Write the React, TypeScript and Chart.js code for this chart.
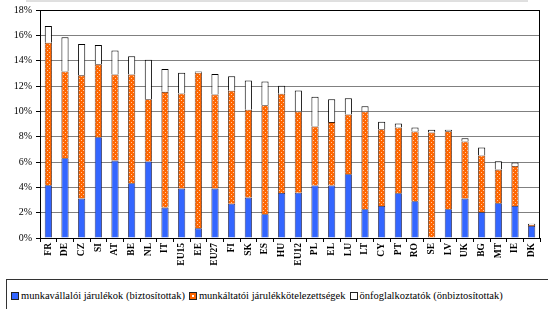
import React, { useEffect, useRef } from "react";
import { Chart, registerables } from "chart.js";

Chart.register(...registerables);

const categories = ["FR","DE","CZ","SI","AT","BE","NL","IT","EU15","EE","EU27","FI","SK","ES","HU","EU12","PL","EL","LU","LT","CY","PT","RO","SE","LV","UK","BG","MT","IE","DK"];
const employee = [4.16,6.30,3.11,7.96,6.11,4.32,6.04,2.40,3.90,0.76,3.90,2.71,3.19,1.87,3.56,3.58,4.14,4.14,5.03,2.27,2.53,3.53,2.90,0.00,2.27,3.11,2.03,2.74,2.53,0.95];
const employer = [11.26,6.85,9.73,5.75,6.80,8.59,4.92,9.14,7.51,12.29,7.43,8.91,6.93,8.62,7.83,6.41,4.66,5.01,4.72,7.72,6.06,5.19,5.51,8.33,6.16,4.51,4.48,2.66,3.16,0.08];
const selfEmployed = [1.32,2.69,2.47,1.52,1.90,1.43,3.11,1.80,1.64,0.10,1.61,1.14,2.32,1.87,0.63,1.66,2.35,1.81,1.29,0.42,0.58,0.32,0.31,0.21,0.11,0.26,0.63,0.66,0.27,0.10];
const seriesLabels = ["munkavállalói járulékok (biztosítottak)", "munkáltatói járulékkötelezettségek", "önfoglalkoztatók (önbiztosítottak)"];
const yTicks = [0, 2, 4, 6, 8, 10, 12, 14, 16, 18];

const BLUE = "#3366ff";
const ORANGE = "#ff6600";
const FONT = "'Liberation Serif', 'Times New Roman', serif";

function makePattern(): CanvasPattern | string {
  const c = document.createElement("canvas");
  c.width = 4;
  c.height = 4;
  const g = c.getContext("2d");
  if (!g) return ORANGE;
  g.fillStyle = ORANGE;
  g.fillRect(0, 0, 4, 4);
  g.fillStyle = "#ffc9a3";
  g.fillRect(1, 0, 1, 1);
  g.fillRect(3, 2, 1, 1);
  const p = g.createPattern(c, "repeat");
  return p || ORANGE;
}

const framePlugin = {
  id: "frame",
  afterDraw(chart: any) {
    const { ctx, chartArea } = chart;
    ctx.save();
    ctx.strokeStyle = "#000";
    ctx.lineWidth = 1;
    ctx.strokeRect(Math.round(chartArea.left) + 0.5, Math.round(chartArea.top) + 0.5, Math.round(chartArea.right - chartArea.left) - 1, Math.round(chartArea.bottom - chartArea.top));
    ctx.strokeStyle = "#c0c0c0";
    ctx.beginPath();
    ctx.moveTo(26, 1);
    ctx.lineTo(528, 1);
    ctx.stroke();
    ctx.restore();
  },
};

export default function App() {
  const ref = useRef<HTMLCanvasElement | null>(null);

  useEffect(() => {
    document.body.style.margin = "0";
    if (!ref.current) return;
    const pattern = makePattern();
    const chart = new Chart(ref.current, {
      type: "bar",
      data: {
        labels: categories,
        datasets: [
          { label: seriesLabels[0], data: employee, backgroundColor: BLUE, borderColor: "#1a1a40", borderWidth: 0.8 },
          { label: seriesLabels[1], data: employer, backgroundColor: pattern as any, borderColor: "#402010", borderWidth: 0.8 },
          { label: seriesLabels[2], data: selfEmployed, backgroundColor: "#ffffff", borderColor: "#000", borderWidth: 1 },
        ],
      },
      options: {
        animation: false,
        responsive: true,
        maintainAspectRatio: false,
        datasets: { bar: { categoryPercentage: 1, barPercentage: 0.43 } },
        layout: { padding: { top: 10, right: 8, left: 0, bottom: 0 } },
        plugins: { legend: { display: false }, tooltip: { enabled: false } },
        scales: {
          x: {
            stacked: true,
            afterFit: (s: any) => { s.height = 41; },
            grid: { display: true, drawOnChartArea: false, drawTicks: true, tickLength: 4, color: "#000", offset: true },
            border: { display: true, color: "#000" },
            ticks: {
              color: "#000",
              maxRotation: 90,
              minRotation: 90,
              autoSkip: false,
              padding: 1,
              font: { family: FONT, size: 9.5, weight: "bold" },
            },
          },
          y: {
            stacked: true,
            min: 0,
            max: 18,
            afterFit: (s: any) => { s.width = 40; },
            afterBuildTicks: (s: any) => { s.ticks = yTicks.map((v) => ({ value: v })); },
            grid: {
              color: (c: any) => (c.tick && (c.tick.value === 18 || c.tick.value === 0) ? "#000" : "#808080"),
              tickColor: "#000",
              tickLength: 4,
              lineWidth: 1,
            },
            border: { display: true, color: "#000" },
            ticks: {
              color: "#000",
              padding: 4,
              font: { family: FONT, size: 10 },
              callback: (v: any) => v + "%",
            },
          },
        },
      },
      plugins: [framePlugin],
    });
    return () => chart.destroy();
  }, []);

  const square = (bg: string, extra?: React.CSSProperties): React.CSSProperties => ({
    display: "inline-block",
    width: 6,
    height: 6,
    background: bg,
    border: "1px solid #222",
    marginRight: 2,
    verticalAlign: "middle",
    position: "relative",
    top: -1,
    ...extra,
  });

  return (
    <div style={{ position: "relative", width: 548, height: 309, overflow: "hidden", background: "#fff" }}>
      <div style={{ position: "absolute", left: 0, top: 0, width: 548, height: 279 }}>
        <canvas ref={ref} />
      </div>
      <div
        style={{
          position: "absolute",
          left: 6,
          top: 279,
          width: 600,
          height: 50,
          border: "1px solid #333",
          boxSizing: "border-box",
          fontFamily: FONT,
          fontSize: 10.5,
          lineHeight: "12px",
          paddingTop: 10,
          paddingLeft: 4,
          whiteSpace: "nowrap",
          color: "#000",
        }}
      >
        <span style={square(BLUE)} />
        <span style={{ marginRight: 4 }}>{seriesLabels[0]}</span>
        <span style={square(`radial-gradient(circle at 50% 50%, #fff 0 1px, ${ORANGE} 1.5px)`)} />
        <span style={{ marginRight: 4 }}>{seriesLabels[1]}</span>
        <span style={square("#fff")} />
        <span>{seriesLabels[2]}</span>
      </div>
    </div>
  );
}
